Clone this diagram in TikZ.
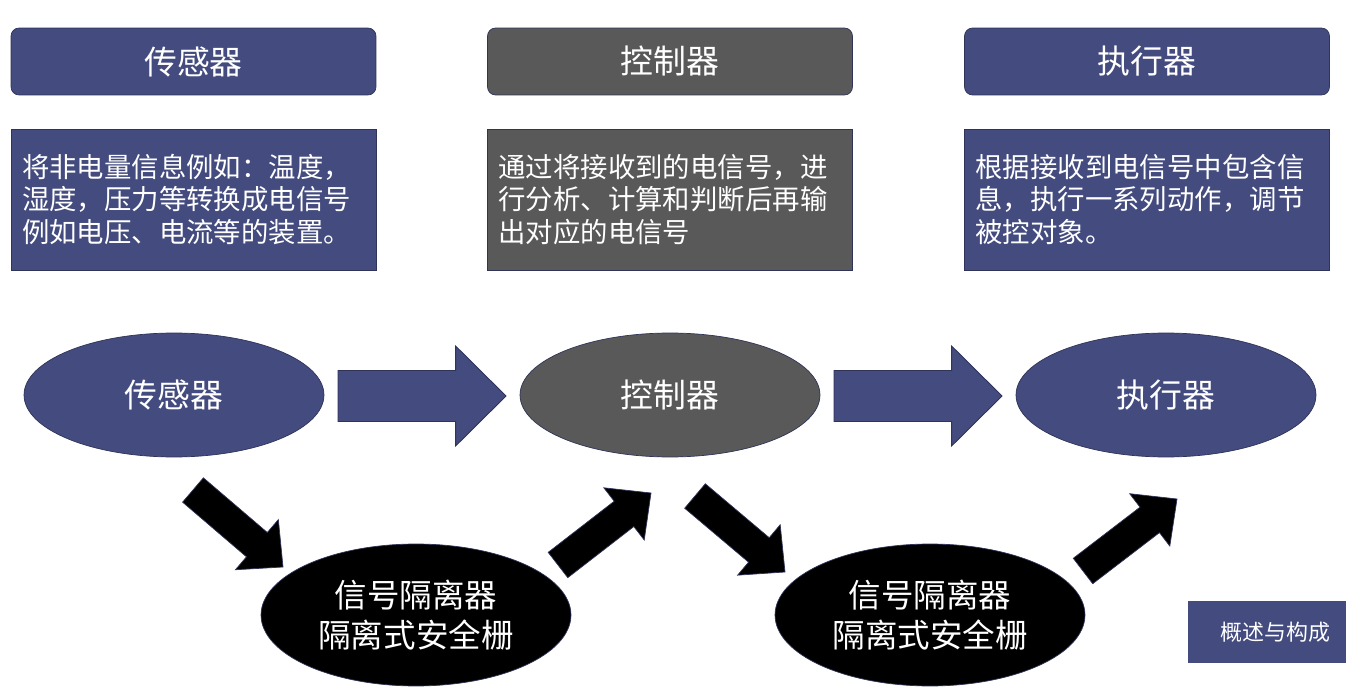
\documentclass[tikz,border=0pt]{standalone}
\usepackage{fontspec}
\setmainfont{Noto Sans CJK SC}
\usetikzlibrary{calc,shapes.geometric}
\definecolor{slateblue}{RGB}{67,75,127}
\definecolor{ctrlgray}{RGB}{89,89,89}
\definecolor{rimdark}{RGB}{47,52,88}

% fat block arrow: style, tail, tip, shaft half width, head half width, neck fraction
\newcommand{\fatarrow}[6]{%
  \filldraw[#1] ($(#2)!#4!90:(#3)$)
    -- ($(#2)!#6!(#3)!#4!90:(#3)$)
    -- ($(#2)!#6!(#3)!#5!90:(#3)$)
    -- (#3)
    -- ($(#2)!#6!(#3)!#5!-90:(#3)$)
    -- ($(#2)!#6!(#3)!#4!-90:(#3)$)
    -- ($(#2)!#4!-90:(#3)$) -- cycle;}

\begin{document}
\begin{tikzpicture}[x=0.02cm,y=-0.02cm,every node/.style={align=center,text=white},
  titlebox/.style={draw=rimdark,rounded corners=0.16cm,minimum width=7.3cm,minimum height=1.34cm,
    font=\fontsize{18.7}{22}\selectfont},
  descbox/.style={draw=rimdark,text width=6.86cm,inner sep=0.22cm,minimum height=2.82cm,align=left,
    font=\fontsize{15.6}{18.7}\selectfont},
  oval/.style={ellipse,draw=rimdark,inner sep=0pt,minimum width=6cm,minimum height=2.48cm,
    font=\fontsize{18.7}{22}\selectfont},
  isolator/.style={ellipse,fill=black,draw=rimdark,inner sep=0pt,minimum width=6.2cm,minimum height=2.84cm,
    font=\fontsize{18.5}{22.7}\selectfont},
  flowarrow/.style={fill=slateblue,draw=rimdark,line width=0.5pt},
  sidearrow/.style={fill=black,draw=rimdark,line width=0.4pt}]
  \useasboundingbox (0,0) rectangle (1346,689);

  % headings
  \node[titlebox,fill=slateblue] (t1) at (193.5,61.5) {传感器};
  \node[titlebox,fill=ctrlgray] (t2) at (670,61.5) {控制器};
  \node[titlebox,fill=slateblue] (t3) at (1147,61.5) {执行器};

  % descriptions
  \node[descbox,fill=slateblue] (d1) at (193.5,199.5)
    {将非电量信息例如：温度，\\湿度，压力等转换成电信号\\例如电压、电流等的装置。};
  \node[descbox,fill=ctrlgray] (d2) at (670,199.5)
    {通过将接收到的电信号，进\\行分析、计算和判断后再输\\出对应的电信号};
  \node[descbox,fill=slateblue] (d3) at (1147,199.5)
    {根据接收到电信号中包含信\\息，执行一系列动作，调节\\被控对象。};

  % main chain
  \node[oval,fill=slateblue] (e1) at (174,395) {传感器};
  \node[oval,fill=ctrlgray] (e2) at (670,395) {控制器};
  \node[oval,fill=slateblue] (e3) at (1166,395) {执行器};
  \node[isolator] (i1) at (416,615) {信号隔离器\\隔离式安全栅};
  \node[isolator] (i2) at (930,615) {信号隔离器\\隔离式安全栅};

  \coordinate (r1s) at (338,396);
  \coordinate (r1e) at (506,396);
  \coordinate (r2s) at (834,396);
  \coordinate (r2e) at (1002,396);
  \fatarrow{flowarrow}{r1s}{r1e}{0.51cm}{1.0cm}{0.70}
  \fatarrow{flowarrow}{r2s}{r2e}{0.51cm}{1.0cm}{0.70}

  \coordinate (a1s) at (193,490);
  \coordinate (a1e) at (283,567);
  \coordinate (a2s) at (558,565);
  \coordinate (a2e) at (651,493);
  \coordinate (a3s) at (695,496);
  \coordinate (a3e) at (785,572);
  \coordinate (a4s) at (1083,571);
  \coordinate (a4e) at (1177,499);
  \fatarrow{sidearrow}{a1s}{a1e}{0.32cm}{0.66cm}{0.71}
  \fatarrow{sidearrow}{a2s}{a2e}{0.32cm}{0.66cm}{0.71}
  \fatarrow{sidearrow}{a3s}{a3e}{0.32cm}{0.66cm}{0.71}
  \fatarrow{sidearrow}{a4s}{a4e}{0.32cm}{0.66cm}{0.71}

  % section tag
  \node[fill=slateblue,minimum width=3.16cm,minimum height=1.24cm,inner xsep=0.32cm,text width=2.52cm,
    align=right,font=\fontsize{12.5}{15}\selectfont] (tag) at (1267,632) {概述与构成};
\end{tikzpicture}
\end{document}
